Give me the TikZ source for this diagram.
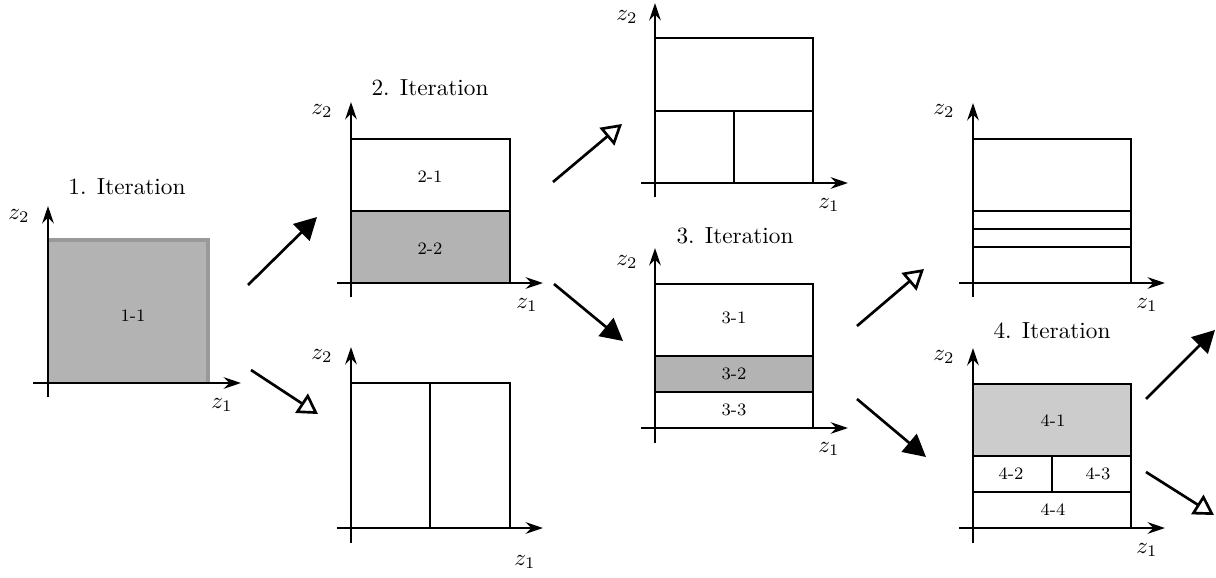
\documentclass[tikz,border=0pt]{standalone}
\usetikzlibrary{arrows.meta}
\begin{document}
\begin{tikzpicture}[x=0.43pt,y=-0.43pt,
  ax/.style={line width=1.15pt,-{Stealth[length=7.5pt,width=5pt,inset=2.5pt]}},
  cell/.style={draw,line width=1.15pt},
  cl/.style={font=\fontsize{7.5}{9}\selectfont},
  tt/.style={font=\normalsize},
  zl/.style={font=\normalsize},
  bigf/.style={line width=1.15pt,-{Triangle[length=9.5pt,width=10pt]}},
  bigo/.style={line width=1.15pt,-{Triangle[open,length=8.5pt,width=9.8pt,line width=1.15pt]}}
]
\useasboundingbox (0,0) rectangle (1216,577);
\definecolor{g1}{HTML}{B3B3B3}
\definecolor{g2}{HTML}{CCCCCC}
\definecolor{gb}{HTML}{999999}

% ---------- Panel 1 ----------
\fill[g1] (48,240) rectangle (208,383);
\draw[gb,line width=1.3pt] (48,240) -- (208,240) -- (208,383);
\node[cl] (c11) at (133,316) {1-1};
\draw[ax] (33,383) -- (241,383);
\draw[ax] (48,397) -- (48,206);
\node[zl] (p1z2) at (19,216) {$z_2$};
\node[zl] (p1z1) at (222,405) {$z_1$};
\node[tt] (t1) at (127,187) {1. Iteration};

% ---------- Panel 2 ----------
\fill[g1] (351,211) rectangle (510,283);
\draw[cell] (351,139) rectangle (510,283);
\draw[cell] (351,211) -- (510,211);
\node[cl] (c21) at (430,177) {2-1};
\node[cl] (c22) at (430,249) {2-2};
\draw[ax] (337,283) -- (543,283);
\draw[ax] (351,297) -- (351,102);
\node[zl] (p2z2) at (322,111) {$z_2$};
\node[zl] (p2z1) at (527,305) {$z_1$};
\node[tt] (t2) at (430,88) {2. Iteration};

% ---------- Panel 2b ----------
\draw[cell] (351,383) rectangle (510,528);
\draw[cell] (430,383) -- (430,528);
\draw[ax] (337,528) -- (543,528);
\draw[ax] (351,543) -- (351,347);
\node[zl] (p2bz2) at (322,356) {$z_2$};
\node[zl] (p2bz1) at (525,562) {$z_1$};

% ---------- Panel 3a ----------
\draw[cell] (655,38) rectangle (813,183);
\draw[cell] (655,111) -- (813,111);
\draw[cell] (734,111) -- (734,183);
\draw[ax] (641,183) -- (848,183);
\draw[ax] (655,197) -- (655,3);
\node[zl] (p3az2) at (627,17) {$z_2$};
\node[zl] (p3az1) at (829,205) {$z_1$};

% ---------- Panel 3 ----------
\fill[g1] (655,356) rectangle (813,392);
\draw[cell] (655,284) rectangle (813,428);
\draw[cell] (655,356) -- (813,356);
\draw[cell] (655,392) -- (813,392);
\node[cl] (c31) at (734,318) {3-1};
\node[cl] (c32) at (734,374) {3-2};
\node[cl] (c33) at (734,410) {3-3};
\draw[ax] (641,428) -- (848,428);
\draw[ax] (655,443) -- (655,248);
\node[zl] (p3z2) at (627,262) {$z_2$};
\node[zl] (p3z1) at (829,449) {$z_1$};
\node[tt] (t3) at (735,236) {3. Iteration};

% ---------- Panel 4a ----------
\draw[cell] (973,139) rectangle (1131,283);
\draw[cell] (973,211) -- (1131,211);
\draw[cell] (973,229) -- (1131,229);
\draw[cell] (973,247) -- (1131,247);
\draw[ax] (959,283) -- (1165,283);
\draw[ax] (973,297) -- (973,103);
\node[zl] (p4az2) at (944,111) {$z_2$};
\node[zl] (p4az1) at (1147,305) {$z_1$};

% ---------- Panel 4 ----------
\fill[g2] (973,384) rectangle (1131,456);
\draw[cell] (973,384) rectangle (1131,528);
\draw[cell] (973,456) -- (1131,456);
\draw[cell] (973,492) -- (1131,492);
\draw[cell] (1052,456) -- (1052,492);
\node[cl] (c41) at (1053,421) {4-1};
\node[cl] (c42) at (1011,474) {4-2};
\node[cl] (c43) at (1098,474) {4-3};
\node[cl] (c44) at (1053,510) {4-4};
\draw[ax] (959,528) -- (1165,528);
\draw[ax] (973,543) -- (973,348);
\node[zl] (p4z2) at (944,357) {$z_2$};
\node[zl] (p4z1) at (1147,550) {$z_1$};
\node[tt] (t4) at (1052,331) {4. Iteration};

% ---------- Transition arrows ----------
\coordinate (a1s) at (248,285); \coordinate (a1e) at (317,217);
\coordinate (b1s) at (251,370); \coordinate (b1e) at (318,414);
\coordinate (a2s) at (553,182); \coordinate (a2e) at (622,124);
\coordinate (b2s) at (554,284); \coordinate (b2e) at (623,341);
\coordinate (a3s) at (857,326); \coordinate (a3e) at (924,269);
\coordinate (b3s) at (857,399); \coordinate (b3e) at (926,457);
\coordinate (a4s) at (1146,399); \coordinate (a4e) at (1215,330);
\coordinate (b4s) at (1146,472); \coordinate (b4e) at (1214,515);
\draw[bigf] (a1s) -- (a1e);
\draw[bigo] (b1s) -- (b1e);
\draw[bigo] (a2s) -- (a2e);
\draw[bigf] (b2s) -- (b2e);
\draw[bigo] (a3s) -- (a3e);
\draw[bigf] (b3s) -- (b3e);
\draw[bigf] (a4s) -- (a4e);
\draw[bigo] (b4s) -- (b4e);
\end{tikzpicture}
\end{document}
